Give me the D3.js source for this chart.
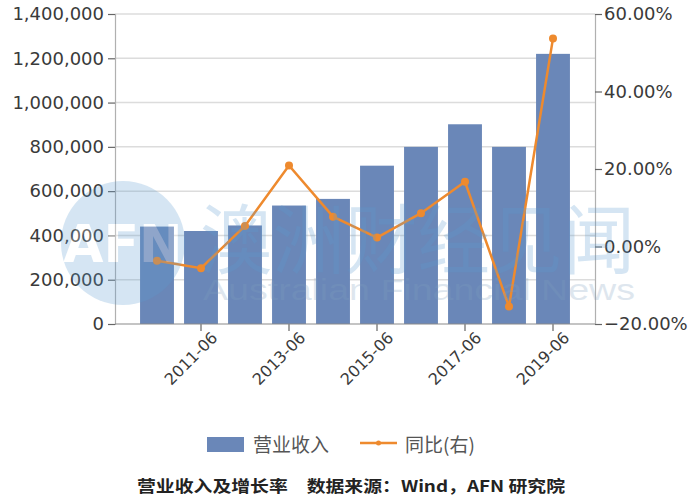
<!DOCTYPE html>
<html>
<head>
<meta charset="utf-8">
<script src="https://cdn.jsdelivr.net/npm/d3@7"></script>
<style>
  html, body { margin: 0; padding: 0; background: #fff; }
  svg { display: block; }
</style>
</head>
<body>
<svg id="chart" width="700" height="500"></svg>
<script>
const categories = ["2010-06","2011-06","2012-06","2013-06","2014-06","2015-06","2016-06","2017-06","2018-06","2019-06"];
const revenue = [440000, 420000, 445000, 535000, 565000, 715000, 800000, 902000, 800000, 1220000];
const growth = [-0.037, -0.056, 0.053, 0.209, 0.077, 0.023, 0.086, 0.167, -0.155, 0.537];
const xTickLabels = ["2011-06","2013-06","2015-06","2017-06","2019-06"];
const leftTicks = [0, 200000, 400000, 600000, 800000, 1000000, 1200000, 1400000];
const rightTicks = [-0.2, 0, 0.2, 0.4, 0.6];
const legendLabels = ["营业收入", "同比(右)"];
const captionText = "营业收入及增长率　数据来源：Wind，AFN 研究院";

const svg = d3.select("#chart");
const pL = 115, pR = 595, pT = 14, pB = 324;
const barColor = "#6a87b8", lineColor = "#ee8a2e", textColor = "#3a3a3a";
const font = "'DejaVu Sans', Verdana, sans-serif";

const x = d3.scaleBand().domain(categories).range([135, 575]).paddingInner(0.23).paddingOuter(0.115);
const yL = d3.scaleLinear().domain([0, 1400000]).range([pB, pT]);
const yR = d3.scaleLinear().domain([-0.2, 0.6]).range([pB, pT]);

// gridlines
svg.append("g").selectAll("line").data(leftTicks.slice(1)).join("line")
  .attr("x1", pL).attr("x2", pR)
  .attr("y1", d => yL(d)).attr("y2", d => yL(d))
  .attr("stroke", "#dcdcdc").attr("stroke-width", 1.5);

// bars
svg.append("g").selectAll("rect").data(categories).join("rect")
  .attr("x", d => x(d)).attr("width", x.bandwidth())
  .attr("y", (d, i) => yL(revenue[i]))
  .attr("height", (d, i) => pB - yL(revenue[i]))
  .attr("fill", barColor);

// left axis
const gL = svg.append("g").attr("transform", `translate(${pL},0)`)
  .call(d3.axisLeft(yL).tickValues(leftTicks).tickFormat(d3.format(",")).tickSize(7).tickPadding(4));
// right axis
const gR = svg.append("g").attr("transform", `translate(${pR},0)`)
  .call(d3.axisRight(yR).tickValues(rightTicks).tickFormat(d3.format(".2%")).tickSize(7).tickPadding(2));
// bottom axis
const gB = svg.append("g").attr("transform", `translate(0,${pB})`)
  .call(d3.axisBottom(x).tickValues(xTickLabels).tickSize(7).tickSizeOuter(0));
svg.append("line").attr("x1", pL).attr("x2", pR).attr("y1", pB).attr("y2", pB)
  .attr("stroke", "#8a8a8a").attr("stroke-width", 1.2);

[gL, gR, gB].forEach(g => {
  g.selectAll(".domain").attr("stroke", "#b0b0b0").attr("stroke-width", 1.2);
  g.selectAll(".tick line").attr("stroke", "#666").attr("stroke-width", 1.2);
  g.selectAll("text").attr("fill", textColor).attr("font-family", font);
});
gL.selectAll("text").attr("font-size", 18);
gR.selectAll("text").attr("font-size", 18);
gB.select(".domain").remove();
gB.selectAll("text").attr("font-size", 16)
  .attr("text-anchor", "end")
  .attr("transform", "rotate(-45)")
  .attr("x", 2).attr("y", 14).attr("dy", "0.55em");

// line series
const line = d3.line().x((d, i) => x(categories[i]) + x.bandwidth() / 2).y(d => yR(d));
svg.append("path").datum(growth).attr("d", line)
  .attr("fill", "none").attr("stroke", lineColor).attr("stroke-width", 2.5);
svg.append("g").selectAll("circle").data(growth).join("circle")
  .attr("cx", (d, i) => x(categories[i]) + x.bandwidth() / 2)
  .attr("cy", d => yR(d)).attr("r", 4).attr("fill", lineColor);

// watermark
const wm = svg.append("g").attr("opacity", 0.25).attr("pointer-events", "none");
wm.append("circle").attr("cx", 123).attr("cy", 243).attr("r", 62).attr("fill", "#5b9bd0");
wm.append("text").attr("x", 123).attr("y", 262).attr("text-anchor", "middle")
  .attr("font-family", font).attr("font-size", 52).attr("font-weight", "bold")
  .attr("fill", "#fff").text("AFN");
wm.append("text").attr("x", 200).attr("y", 268)
  .attr("font-family", "'Noto Sans CJK SC', sans-serif").attr("font-size", 76)
  .attr("textLength", 435).attr("lengthAdjust", "spacingAndGlyphs")
  .attr("fill", "#5b9bd0").text("澳洲财经见闻");
wm.append("text").attr("x", 203).attr("y", 300)
  .attr("font-family", "Arial, 'Liberation Sans', sans-serif").attr("font-size", 30)
  .attr("textLength", 432).attr("lengthAdjust", "spacingAndGlyphs")
  .attr("fill", "#7f9fbf").text("Australian Financial News");

// legend
const lg = svg.append("g");
lg.append("rect").attr("x", 207).attr("y", 437).attr("width", 37).attr("height", 15).attr("fill", barColor);
lg.append("text").attr("x", 253).attr("y", 452)
  .attr("font-family", "'Noto Sans CJK SC', sans-serif").attr("font-size", 19)
  .attr("fill", "#555").text(legendLabels[0]);
lg.append("line").attr("x1", 360).attr("x2", 397).attr("y1", 443).attr("y2", 443)
  .attr("stroke", lineColor).attr("stroke-width", 2.5);
lg.append("circle").attr("cx", 378.5).attr("cy", 443).attr("r", 2.5).attr("fill", lineColor);
lg.append("text").attr("x", 405).attr("y", 452)
  .attr("font-family", "'Noto Sans CJK SC', sans-serif").attr("font-size", 19)
  .attr("fill", "#555").text(legendLabels[1]);

// caption
svg.append("text").attr("x", 137).attr("y", 492)
  .attr("font-family", "'Noto Sans CJK SC', sans-serif").attr("font-size", 16).attr("font-weight", "bold")
  .attr("textLength", 428).attr("lengthAdjust", "spacingAndGlyphs")
  .attr("fill", "#222").text(captionText);
</script>
</body>
</html>
